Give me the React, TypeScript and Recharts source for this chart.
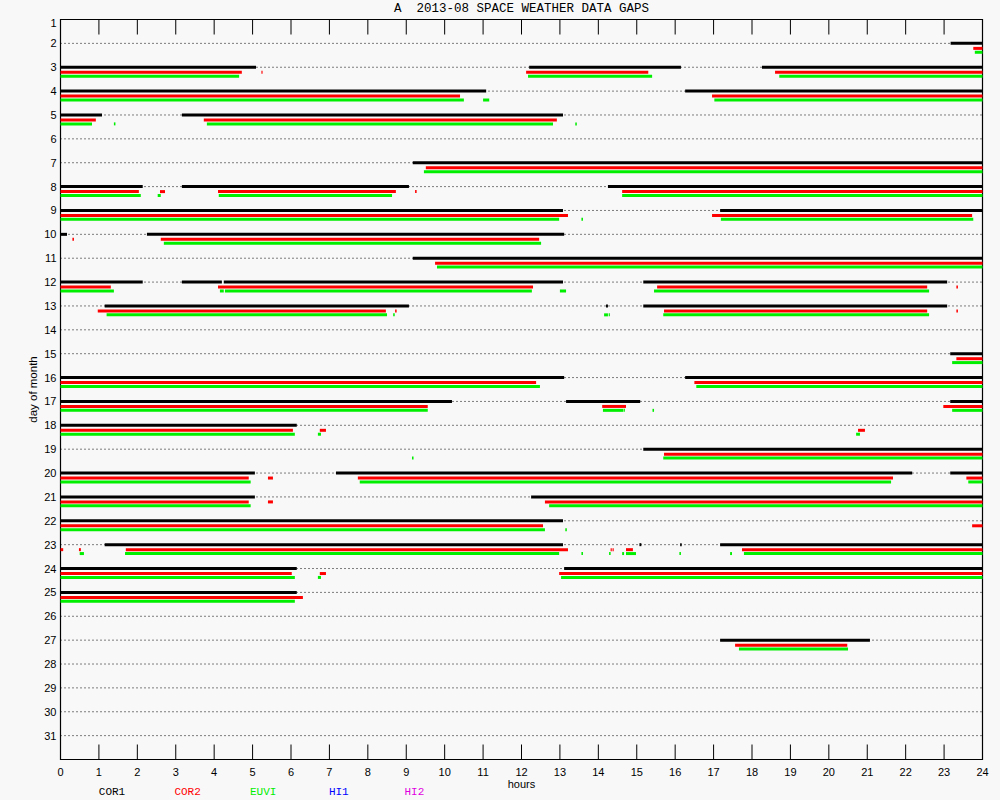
import React from 'react';
import { ComposedChart, XAxis, YAxis, CartesianGrid, ReferenceLine, ReferenceArea } from 'recharts';

const TITLE = 'A  2013-08 SPACE WEATHER DATA GAPS';
const HOURS = [0, 1, 2, 3, 4, 5, 6, 7, 8, 9, 10, 11, 12, 13, 14, 15, 16, 17, 18, 19, 20, 21, 22, 23, 24];
const DAYS = [1, 2, 3, 4, 5, 6, 7, 8, 9, 10, 11, 12, 13, 14, 15, 16, 17, 18, 19, 20, 21, 22, 23, 24, 25, 26, 27, 28, 29, 30, 31];

// [day, start hour, end hour]
const COR1_GAPS: number[][] = [
  [2, 23.17, 24],
  [3, 0, 5.09], [3, 12.2, 16.15], [3, 18.26, 24],
  [4, 0, 11.08], [4, 16.26, 24],
  [5, 0, 1.08], [5, 3.16, 13.08],
  [7, 9.17, 24],
  [8, 0, 2.14], [8, 3.16, 9.07], [8, 14.25, 24],
  [9, 0, 13.08], [9, 17.17, 24],
  [10, 0, 0.17], [10, 2.25, 13.11],
  [11, 9.17, 24],
  [12, 0, 2.14], [12, 3.16, 4.2], [12, 4.25, 13.08], [12, 15.17, 23.08],
  [13, 1.15, 9.07], [13, 14.2, 14.25], [13, 15.17, 23.08],
  [15, 23.16, 24],
  [16, 0, 13.11], [16, 16.26, 24],
  [17, 0, 10.19], [17, 13.16, 15.09], [17, 23.16, 24],
  [18, 0, 6.15],
  [19, 15.17, 24],
  [20, 0, 5.06], [20, 7.17, 22.17], [20, 23.16, 24],
  [21, 0, 5.06], [21, 12.25, 24],
  [22, 0, 13.08],
  [23, 1.15, 13.08], [23, 15.07, 15.12], [23, 16.13, 16.17], [23, 17.17, 24],
  [24, 0, 6.15], [24, 13.11, 24],
  [25, 0, 6.15],
  [27, 17.17, 21.07],
];

const COR2_GAPS: number[][] = [
  [2, 23.76, 24],
  [3, 0, 4.72], [3, 5.23, 5.26], [3, 12.12, 15.3], [3, 18.6, 24],
  [4, 0, 10.4], [4, 16.96, 24],
  [5, 0, 0.92], [5, 3.73, 12.92],
  [7, 9.51, 24],
  [8, 0, 2.04], [8, 2.59, 2.72], [8, 4.1, 8.73], [8, 9.23, 9.27], [8, 14.62, 24],
  [9, 0, 13.21], [9, 16.96, 23.73],
  [10, 0.31, 0.35], [10, 2.61, 12.46],
  [11, 9.75, 24],
  [12, 0, 1.31], [12, 4.1, 12.3], [12, 15.53, 22.56], [12, 23.32, 23.36],
  [13, 0.97, 8.47], [13, 8.71, 8.75], [13, 15.71, 22.56], [13, 23.32, 23.36],
  [15, 23.32, 24],
  [16, 0, 12.38], [16, 16.5, 24],
  [17, 0, 9.56], [17, 14.1, 14.72], [17, 22.98, 24],
  [18, 0, 6.05], [18, 6.75, 6.91], [18, 20.76, 20.94],
  [19, 15.71, 24],
  [20, 0, 4.9], [20, 5.4, 5.53], [20, 7.74, 21.67], [20, 23.58, 24],
  [21, 0, 4.9], [21, 5.4, 5.53], [21, 12.61, 24],
  [22, 0, 12.56], [22, 23.73, 24],
  [23, 0, 0.07], [23, 0.48, 0.53], [23, 1.7, 13.21], [23, 14.32, 14.35], [23, 14.37, 14.4], [23, 14.72, 14.9], [23, 17.74, 24],
  [24, 0, 6.02], [24, 6.75, 6.91], [24, 12.98, 24],
  [25, 0, 6.31],
  [27, 17.56, 20.48],
];

const EUVI_GAPS: number[][] = [
  [2, 23.8, 24],
  [3, 0, 4.65], [3, 12.17, 15.4], [3, 18.71, 24],
  [4, 0, 10.5], [4, 11.0, 11.16], [4, 17.02, 24],
  [5, 0, 0.82], [5, 1.39, 1.43], [5, 3.81, 12.82], [5, 13.4, 13.44],
  [7, 9.46, 24],
  [8, 0, 2.09], [8, 2.53, 2.61], [8, 4.12, 8.63], [8, 14.62, 24],
  [9, 0, 12.98], [9, 13.56, 13.6], [9, 17.19, 23.76],
  [10, 2.69, 12.51],
  [11, 9.8, 24],
  [12, 0, 1.39], [12, 4.15, 4.25], [12, 4.28, 12.27], [12, 13.0, 13.16], [12, 15.45, 22.61],
  [13, 1.2, 8.5], [13, 8.66, 8.7], [13, 14.15, 14.25], [13, 14.27, 14.3], [13, 15.69, 22.61],
  [15, 23.21, 24],
  [16, 0, 12.48], [16, 16.55, 24],
  [17, 0, 9.56], [17, 14.12, 14.65], [17, 14.66, 14.69], [17, 15.41, 15.45], [17, 23.21, 24],
  [18, 0, 6.1], [18, 6.7, 6.78], [18, 20.71, 20.81],
  [19, 9.15, 9.19], [19, 15.69, 24],
  [20, 0, 4.95], [20, 7.79, 21.62], [20, 23.63, 24],
  [21, 0, 4.95], [21, 12.72, 24],
  [22, 0, 12.61], [22, 13.14, 13.18],
  [23, 0.5, 0.61], [23, 1.68, 12.98], [23, 13.56, 13.6], [23, 14.28, 14.32], [23, 14.62, 14.67], [23, 14.72, 14.98], [23, 16.11, 16.15], [23, 17.43, 17.48], [23, 17.79, 24],
  [24, 0, 6.1], [24, 6.7, 6.78], [24, 13.03, 24],
  [25, 0, 6.1],
  [27, 17.66, 20.5],
];

const HI1_GAPS: number[][] = [];
const HI2_GAPS: number[][] = [];

const LEGEND_NAMES = ['COR1', 'COR2', 'EUVI', 'HI1', 'HI2'];

// ---- layout / style ----
const W = 1000;
const H = 800;
const M_TOP = 19.5;
const M_RIGHT = 17.5;
const Y_AXIS_W = 60.5;
const X_AXIS_H = 40.5;
const PLOT_H = H - M_TOP - X_AXIS_H;
const X_TICK_MARGIN = 12;
const BG = '#f8f8f8';
const GREEN = '#00ee00';

const SERIES = [
  { name: 'COR1', gaps: COR1_GAPS, color: '#000000', dy: 0 },
  { name: 'COR2', gaps: COR2_GAPS, color: '#ff0000', dy: 5 },
  { name: 'EUVI', gaps: EUVI_GAPS, color: GREEN, dy: 8.9 },
  { name: 'HI1', gaps: HI1_GAPS, color: '#0000ff', dy: 12.8 },
  { name: 'HI2', gaps: HI2_GAPS, color: '#e000e0', dy: 16.7 },
];
const LEGEND_COLORS: Record<string, string> = { COR1: '#000000', COR2: '#ff0000', EUVI: GREEN, HI1: '#0000ff', HI2: '#e000e0' };
const LEGEND_X0 = 112;
const LEGEND_STEP = 75.6;

const segShape = (dy: number, color: string) => (p: any) => (
  <line x1={p.x1} y1={p.y1 + dy} x2={p.x2} y2={p.y2 + dy} stroke={color} strokeWidth={3} />
);

const XTick = (props: any) => {
  const { x, y, payload } = props;
  const axisY = y - X_TICK_MARGIN;
  const topY = axisY - PLOT_H;
  const inner = payload.value > 0 && payload.value < 24;
  return (
    <g>
      {inner && <line x1={x} y1={axisY} x2={x} y2={axisY - 15} stroke="#000" strokeWidth={1} />}
      {inner && <line x1={x} y1={topY} x2={x} y2={topY + 15} stroke="#000" strokeWidth={1} />}
      <text x={x} y={y} textAnchor="middle" dominantBaseline="central" fontFamily="Liberation Sans" fontSize={11} fill="#000">
        {payload.value}
      </text>
    </g>
  );
};

const YTick = (props: any) => {
  const { x, y, payload } = props;
  const yy = payload.value === 1 ? y + 3 : y;
  return (
    <text x={x} y={yy} textAnchor="end" dominantBaseline="central" fontFamily="Liberation Sans" fontSize={11} fill="#000">
      {payload.value}
    </text>
  );
};

export default function App() {
  return (
    <div style={{ position: 'absolute', left: 0, top: 0, width: W, height: H, background: BG, overflow: 'hidden' }}>
      <div
        style={{
          position: 'absolute', left: 0, top: 3, width: 2 * (Y_AXIS_W + (W - Y_AXIS_W - M_RIGHT) / 2),
          textAlign: 'center', fontFamily: 'Liberation Mono', fontSize: 12.5, lineHeight: '13px', whiteSpace: 'pre', color: '#000',
        }}
      >
        {TITLE}
      </div>
      <ComposedChart width={W} height={H} margin={{ top: M_TOP, right: M_RIGHT, bottom: 0, left: 0 }}>
        <CartesianGrid horizontal vertical={false} stroke="#000" strokeDasharray="1 3" />
        <XAxis
          type="number"
          dataKey="x"
          domain={[0, 24]}
          ticks={HOURS}
          interval={0}
          allowDataOverflow
          height={X_AXIS_H}
          axisLine={false}
          tickLine={false}
          tickSize={0}
          tickMargin={X_TICK_MARGIN}
          tick={<XTick />}
          label={{ value: 'hours', position: 'insideBottom', offset: 12, fontFamily: 'Liberation Sans', fontSize: 11, fill: '#000' }}
        />
        <YAxis
          type="number"
          dataKey="y"
          domain={[1, 32]}
          reversed
          ticks={DAYS}
          interval={0}
          allowDataOverflow
          width={Y_AXIS_W}
          axisLine={false}
          tickLine={false}
          tickSize={0}
          tickMargin={4}
          tick={<YTick />}
          label={{ value: 'day of month', angle: -90, position: 'center', dx: 3, fontFamily: 'Liberation Sans', fontSize: 11.5, fill: '#000' }}
        />
        {SERIES.map((s) =>
          s.gaps.map((g, i) => (
            <ReferenceLine
              key={`${s.name}-${i}`}
              segment={[{ x: g[1], y: g[0] }, { x: g[2], y: g[0] }]}
              stroke={s.color}
              shape={segShape(s.dy, s.color)}
            />
          ))
        )}
        <ReferenceArea x1={0} x2={24} y1={1} y2={32} fill="none" fillOpacity={0} stroke="#000" strokeWidth={1.2} />
      </ComposedChart>
      {LEGEND_NAMES.map((n, i) => (
        <div
          key={n}
          style={{
            position: 'absolute', left: LEGEND_X0 + i * LEGEND_STEP - 30, width: 60, top: 785, lineHeight: '14px',
            textAlign: 'center', fontFamily: 'Liberation Mono', fontSize: 11, color: LEGEND_COLORS[n],
          }}
        >
          {n}
        </div>
      ))}
    </div>
  );
}
